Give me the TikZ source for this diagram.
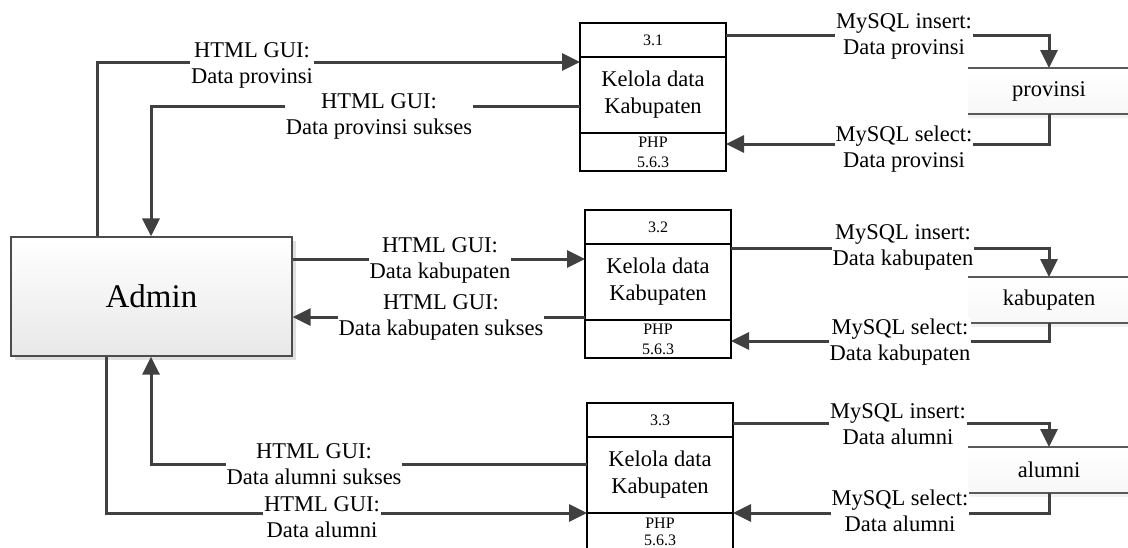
\documentclass[tikz,border=0pt]{standalone}
\usepackage{fontspec}
\setmainfont{Liberation Serif}
\usetikzlibrary{arrows.meta, positioning, shadows}
\definecolor{flowgray}{HTML}{404040}
\definecolor{storegray}{HTML}{5A5A5A}
\tikzstyle{arrow} = [line width=3pt, draw=flowgray, -{Triangle[length=18pt,width=17pt]}]
\tikzstyle{procHead} = [rectangle, draw=black, line width=2.3pt, minimum width=146pt, minimum height=34pt, inner sep=0pt, outer sep=0pt, font=\fontsize{16}{20}\selectfont]
\tikzstyle{procBody} = [procHead, minimum height=76pt, align=center, font=\fontsize{22.5}{27}\selectfont]
\tikzstyle{procFoot} = [procHead, minimum height=38pt, align=center]
\tikzstyle{flowLabel} = [fill=white, inner sep=1pt, align=center, font=\fontsize{22.5}{26}\selectfont]
\tikzstyle{entity} = [rectangle, draw=black!70, line width=1.2pt, top color=white, bottom color=black!9, minimum width=281pt, minimum height=119pt, drop shadow={shadow xshift=4pt, shadow yshift=-4pt, fill=black!25}, font=\fontsize{33}{38}\selectfont]
\tikzstyle{store} = [rectangle, top color=white, bottom color=black!3, minimum width=162pt, minimum height=46pt, inner sep=0pt, outer sep=0pt, drop shadow={shadow xshift=0pt, shadow yshift=-4pt, fill=black!10}, font=\fontsize{22.5}{26}\selectfont]
\tikzstyle{storeLine} = [line width=1.5pt, draw=storegray]

\begin{document}
\begin{tikzpicture}[x=1pt, y=-1pt]
    \path[use as bounding box, clip] (0,0) rectangle (1128,547);

    % external entity
    \node (admin) [entity] at (151.5,296.5) {Admin};

    % processes
    \node (h1) [procHead] at (653,40) {3.1};
    \node (p1) [procBody, below=0pt of h1] {Kelola data\\Kabupaten};
    \node (f1) [procFoot, below=0pt of p1] {PHP\\5.6.3};

    \node (h2) [procHead] at (658,227) {3.2};
    \node (p2) [procBody, below=0pt of h2] {Kelola data\\Kabupaten};
    \node (f2) [procFoot, below=0pt of p2] {PHP\\5.6.3};

    \node (h3) [procHead] at (660,420) {3.3};
    \node (p3) [procBody, below=0pt of h3] {Kelola data\\Kabupaten};
    \node (f3) [procFoot, below=0pt of p3, font=\fontsize{16}{17}\selectfont, yshift=0pt] {PHP\\5.6.3};

    % data stores
    \node (s1) [store] at (1049,91) {provinsi};
    \node (s2) [store] at (1049,300) {kabupaten};
    \node (s3) [store] at (1049,470) {alumni};
    \foreach \s in {s1,s2,s3} {
        \draw [storeLine] (\s.north west) -- (\s.north east);
        \draw [storeLine] (\s.south west) -- (\s.south east);
    }

    % admin <-> processes
    \draw [arrow] (admin.north -| 97,0) |- (p1.west |- 0,62);
    \draw [arrow] (p1.west |- 0,106) -| (admin.north -| 151,0);
    \draw [arrow] (admin.east |- 0,259) -- (p2.west |- 0,259);
    \draw [arrow] (p2.west |- 0,317) -- (admin.east |- 0,317);
    \draw [arrow] (p3.west |- 0,464) -| (admin.south -| 151,0);
    \draw [arrow] (admin.south -| 106,0) |- (p3.south west);

    % processes <-> stores
    \draw [arrow] (h1.east |- 0,35) -| (s1.north);
    \draw [arrow] (s1.south) |- (f1.east |- 0,144);
    \draw [arrow] (p2.east |- 0,248) -| (s2.north);
    \draw [arrow] (s2.south) |- (f2.east |- 0,341);
    \draw [arrow] (h3.east |- 0,423) -| (s3.north);
    \draw [arrow] (s3.south) |- (p3.south east);

    % flow labels
    \node (l1) [flowLabel] at (252,65) {HTML GUI:\\Data provinsi};
    \node (l2) [flowLabel] at (379,116) {HTML GUI:\\Data provinsi sukses};
    \node (l3) [flowLabel] at (440,260) {HTML GUI:\\Data kabupaten};
    \node (l4) [flowLabel] at (441,317) {HTML GUI:\\Data kabupaten sukses};
    \node (l5) [flowLabel] at (314,464) {HTML GUI:\\Data alumni sukses};
    \node (l6) [flowLabel] at (322,517) {HTML GUI:\\Data alumni};

    \node (m1) [flowLabel] at (904,36) {MySQL insert:\\Data provinsi};
    \node (m2) [flowLabel] at (904,149) {MySQL select:\\Data provinsi};
    \node (m3) [flowLabel] at (903,247) {MySQL insert:\\Data kabupaten};
    \node (m4) [flowLabel] at (900,342) {MySQL select:\\Data kabupaten};
    \node (m5) [flowLabel] at (898,424) {MySQL insert:\\Data alumni};
    \node (m6) [flowLabel] at (900,511) {MySQL select:\\Data alumni};
\end{tikzpicture}
\end{document}
